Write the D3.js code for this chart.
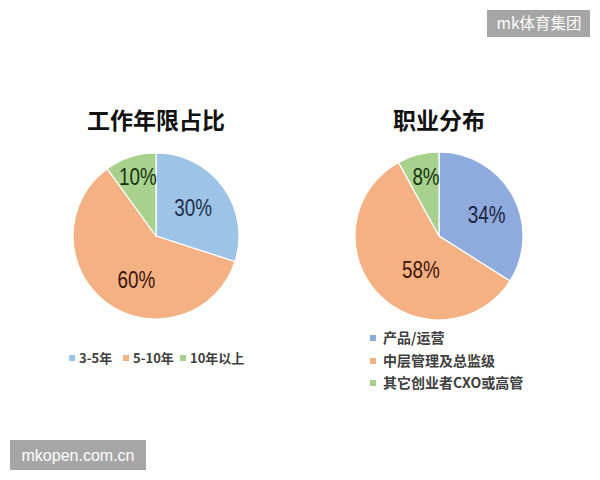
<!DOCTYPE html>
<html><head><meta charset="utf-8">
<script src="https://cdn.jsdelivr.net/npm/d3@7"></script>
<style>body{margin:0;background:#fff}</style>
</head><body>
<svg id="c" width="600" height="480"></svg>
<script>
const titles = ["工作年限占比", "职业分布"];
const leftCategories = ["3-5年", "5-10年", "10年以上"];
const leftValues = [30, 60, 10];
const rightCategories = ["产品/运营", "中层管理及总监级", "其它创业者CXO或高管"];
const rightValues = [34, 58, 8];
const watermarks = ["mk体育集团", "mkopen.com.cn"];

const svg = d3.select("#c");
svg.append("rect").attr("width",600).attr("height",480).attr("fill","#fff");

const fontCJK = "'Noto Sans CJK SC', sans-serif";
const labelFont = "'Liberation Sans', Arial, sans-serif";

// label placement (layout): [radius fraction, angle nudge in degrees] per slice
function drawPie(cx, cy, r, values, colors, labelColors, title, place) {
  const g = svg.append("g").attr("transform", `translate(${cx},${cy})`);
  const pie = d3.pie().sort(null).value(d => d);
  const arcs = pie(values);
  const arc = d3.arc().innerRadius(0).outerRadius(r);
  g.selectAll("path").data(arcs).join("path")
    .attr("d", arc).attr("fill", (d,i) => colors[i])
    .attr("stroke", "#fff").attr("stroke-width", 1.2);
  g.selectAll("text.lbl").data(arcs).join("text").attr("class","lbl")
    .attr("transform", (d,i) => {
      const frac = place[i][0];
      const a = (d.startAngle + d.endAngle)/2 + place[i][1]*Math.PI/180;
      return `translate(${Math.sin(a)*r*frac},${-Math.cos(a)*r*frac}) scale(0.82,1)`;
    })
    .attr("text-anchor","middle").attr("dy","0.36em")
    .attr("font-family", labelFont).attr("font-size", 23)
    .attr("fill", (d,i) => labelColors[i])
    .text(d => d.data + "%");
  svg.append("text").attr("x", cx).attr("y", 121).attr("dy","0.36em")
    .attr("text-anchor","middle").attr("font-family", fontCJK)
    .attr("font-weight", "bold").attr("font-size", 23).attr("fill","#111")
    .text(title);
}

drawPie(156, 236, 83, leftValues, ["#9dc3e6","#f4b183","#a9d18e"], ["#1f2d4a","#3b1408","#14300e"], titles[0],
  [[0.56,-1],[0.58,-12],[0.75,1]]);
drawPie(439, 236, 84, rightValues, ["#8faadc","#f4b183","#a9d18e"], ["#1a2440","#3b1408","#14300e"], titles[1],
  [[0.62,5],[0.46,-19],[0.72,2]]);

// left legend (horizontal)
const leftLegendX = [72, 126, 183];
const lcol = ["#9dc3e6","#f4b183","#a9d18e"];
leftCategories.forEach((c,i) => {
  svg.append("rect").attr("x", leftLegendX[i]-3).attr("y", 355).attr("width",6).attr("height",6).attr("fill", lcol[i]);
  svg.append("text").attr("x", leftLegendX[i]+7).attr("y", 358).attr("dy","0.36em")
    .attr("font-family", fontCJK).attr("font-size", 13).attr("font-weight", 600).attr("fill","#404040").text(c);
});
// right legend (vertical)
const rcol = ["#8faadc","#f4b183","#a9d18e"];
const rightLegendY = [338, 361, 383];
rightCategories.forEach((c,i) => {
  svg.append("rect").attr("x", 370).attr("y", rightLegendY[i]-3).attr("width",6).attr("height",6).attr("fill", rcol[i]);
  svg.append("text").attr("x", 383).attr("y", rightLegendY[i]).attr("dy","0.36em")
    .attr("font-family", fontCJK).attr("font-size", 14).attr("font-weight", 600).attr("fill","#404040").text(c);
});

// watermarks
svg.append("rect").attr("x",487).attr("y",10).attr("width",103).attr("height",27).attr("fill","#a6a6a6");
svg.append("text").attr("x",539).attr("y",23.5).attr("dy","0.36em").attr("text-anchor","middle")
  .attr("font-family", fontCJK).attr("font-size",15.5).attr("fill","#fff").text(watermarks[0]);
svg.append("rect").attr("x",10).attr("y",440).attr("width",136).attr("height",30).attr("fill","#a6a6a6");
svg.append("text").attr("x",78).attr("y",455).attr("dy","0.36em").attr("text-anchor","middle")
  .attr("font-family", "'Liberation Sans', Arial, sans-serif").attr("font-size",16).attr("fill","#fff").text(watermarks[1]);
</script>
</body></html>
